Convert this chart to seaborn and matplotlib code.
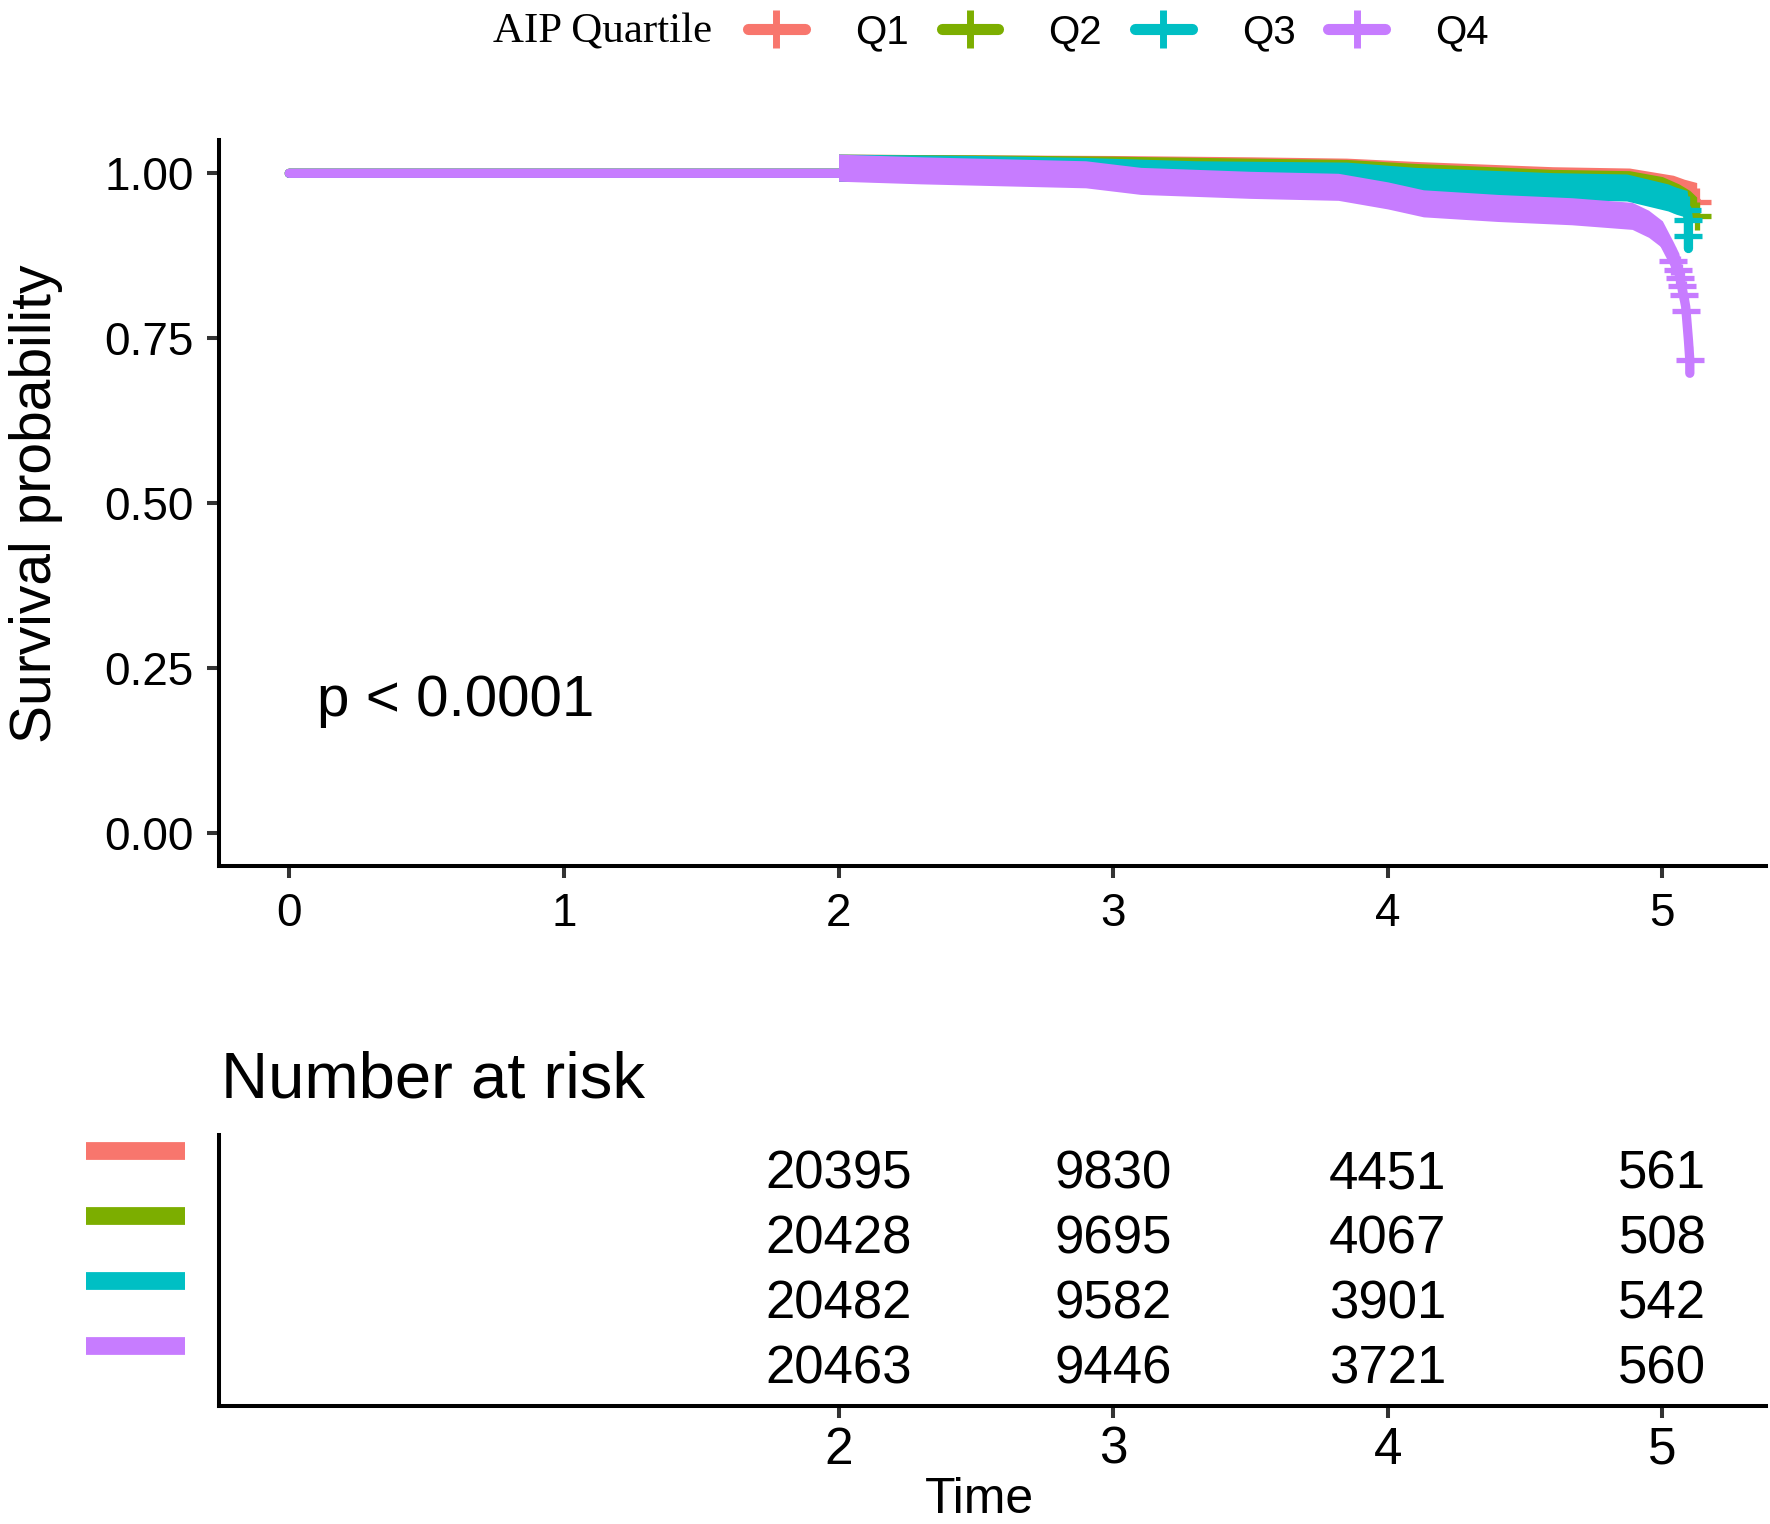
"""
Curva de supervivencia Kaplan-Meier por cuartil de AIP con tabla de riesgo
"""

import numpy as np
import pandas as pd
import matplotlib
matplotlib.use('Agg')
import matplotlib.pyplot as plt
from matplotlib.lines import Line2D
import seaborn as sns

# Grupos y colores (paleta por defecto de ggplot)
groups = ['Q1', 'Q2', 'Q3', 'Q4']
colors = ['#F8766D', '#7CAE00', '#00BFC4', '#C77CFF']

# Curvas KM (tiempo, supervivencia)
q1_time = [0, 2.0, 2.5, 3.0, 3.5, 3.85, 4.1, 4.6, 4.88, 5.04, 5.08, 5.125]
q1_surv = [1.0, 1.0, 0.999, 0.998, 0.996, 0.994, 0.989, 0.981, 0.979, 0.968, 0.962, 0.957]

q2_time = [0, 2.0, 2.5, 3.0, 3.5, 3.85, 4.1, 4.6, 4.88, 5.0, 5.06, 5.1, 5.125]
q2_surv = [1.0, 1.0, 0.999, 0.997, 0.994, 0.992, 0.986, 0.977, 0.975, 0.966, 0.955, 0.945, 0.935]

q3_time = [0, 2.0, 2.5, 2.9, 3.3, 3.85, 4.1, 4.6, 4.87, 4.95, 5.02, 5.05, 5.09, 5.095, 5.095]
q3_surv = [1.0, 1.0, 0.998, 0.995, 0.990, 0.988, 0.980, 0.972, 0.970, 0.962, 0.955, 0.950, 0.945, 0.929, 0.886]

q4_time = [0, 2.0, 2.3, 2.6, 2.9, 3.1, 3.5, 3.82, 4.0, 4.13, 4.4, 4.67, 4.89, 4.95,
           5.0, 5.04, 5.06, 5.07, 5.085, 5.095, 5.10, 5.10]
q4_surv = [1.0, 1.0, 0.996, 0.993, 0.990, 0.980, 0.974, 0.971, 0.958, 0.946, 0.939, 0.934, 0.927, 0.915,
           0.899, 0.867, 0.850, 0.830, 0.798, 0.747, 0.717, 0.697]

# Censuras aisladas al final de cada curva
q1_cens_t = [5.125]
q1_cens_s = [0.957]
q2_cens_t = [5.125]
q2_cens_s = [0.935]
q3_cens_t = [5.09, 5.095, 5.095]
q3_cens_s = [0.945, 0.929, 0.905]
q4_cens_t = [5.04, 5.058, 5.065, 5.07, 5.078, 5.086, 5.10]
q4_cens_s = [0.867, 0.853, 0.841, 0.830, 0.815, 0.792, 0.717]

# Tabla de número en riesgo
risk_times = [2, 3, 4, 5]
risk_q1 = [20395, 9830, 4451, 561]
risk_q2 = [20428, 9695, 4067, 508]
risk_q3 = [20482, 9582, 3901, 542]
risk_q4 = [20463, 9446, 3721, 560]

curves = [(q1_time, q1_surv), (q2_time, q2_surv), (q3_time, q3_surv), (q4_time, q4_surv)]
censors = [(q1_cens_t, q1_cens_s), (q2_cens_t, q2_cens_s),
           (q3_cens_t, q3_cens_s), (q4_cens_t, q4_cens_s)]
risks = [risk_q1, risk_q2, risk_q3, risk_q4]

sns.set_style('ticks')
plt.rcParams['font.family'] = ['Liberation Sans', 'DejaVu Sans']
plt.rcParams.update({
    'text.color': 'black',
    'axes.labelcolor': 'black',
    'axes.edgecolor': 'black',
    'xtick.labelcolor': 'black',
    'ytick.labelcolor': 'black',
})

W, H = 1770, 1524
fig = plt.figure(figsize=(W / 200, H / 200), dpi=200)

ax = fig.add_axes([219 / W, 1 - 866.3 / H, 1546.6 / W, 726 / H])
ax_risk = fig.add_axes([219 / W, 1 - 1406 / H, 1546.6 / W, 271 / H])

# Curvas de supervivencia
for i, (g, c) in enumerate(zip(groups, colors)):
    t, s = curves[i]
    df = pd.DataFrame({'time': t, 'surv': s})
    sns.lineplot(data=df, x='time', y='surv', color=c, lw=3.35, sort=False,
                 estimator=None, ax=ax, zorder=3 + i, legend=False)
    # banda de marcas de censura densas a partir de t = 2
    tt = np.array(t)
    ss = np.array(s)
    m = tt >= 2
    ax.fill_between(tt[m], ss[m] - 0.012, ss[m] + 0.029, color=c, lw=0, zorder=3 + i)
    ct, cs = censors[i]
    ax.plot(ct, cs, ls='none', marker='+', ms=10, mew=1.9, color=c, zorder=3 + i)

ax.set_xlim(-0.256, 5.376)
ax.set_ylim(-0.05, 1.05)
ax.set_xticks([0, 1, 2, 3, 4, 5])
ax.set_yticks([0, 0.25, 0.5, 0.75, 1.0])
ax.set_yticklabels(['0.00', '0.25', '0.50', '0.75', '1.00'])
ax.set_xlabel('')
ax.set_ylabel('Survival probability', fontsize=20.5)
ax.yaxis.set_label_coords(-0.101, 0.5)
ax.tick_params(labelsize=16.5, length=4.2, width=1.45, color='#333333', pad=5)
sns.despine(ax=ax)
for sp in ['left', 'bottom']:
    ax.spines[sp].set_linewidth(1.45)

ax.text(0.1, 0.2, 'p < 0.0001', fontsize=21, ha='left', va='center')

# Leyenda superior
handles = [Line2D([], [], color=c, lw=4, marker='+', ms=14, mew=2.5) for c in colors]
fig.legend(handles, groups, loc='center left', bbox_to_anchor=(748 / W, 1 - 32 / H),
           ncol=4, frameon=False, fontsize=14.5, handlelength=1.41, handletextpad=1.24,
           columnspacing=0.82, borderpad=0, borderaxespad=0)
fig.text(493 / W, 1 - 32 / H, 'AIP Quartile', family='Liberation Serif',
         fontsize=15.5, va='center', ha='left')

# Tabla de riesgo
fig.text(221 / W, 1 - 1098 / H, 'Number at risk', fontsize=23.5, va='baseline', ha='left')
row_y = [4, 3, 2, 1]
for i, c in enumerate(colors):
    for t, n in zip(risk_times, risks[i]):
        ax_risk.text(t, row_y[i] - 0.36, str(n), ha='center', va='center', fontsize=19)
    ax_risk.plot([-0.086, -0.022], [row_y[i], row_y[i]], color=c, lw=6.4,
                 solid_capstyle='butt', clip_on=False, transform=ax_risk.get_yaxis_transform())

ax_risk.set_xlim(-0.256, 5.376)
ax_risk.set_ylim(0.079, 4.246)
ax_risk.set_xticks(risk_times)
ax_risk.set_yticks([])
ax_risk.set_xlabel('Time', fontsize=18)
ax_risk.xaxis.set_label_coords(0.492, -0.262)
ax_risk.tick_params(labelsize=18.5, length=4.2, width=1.45, color='#333333', pad=3)
sns.despine(ax=ax_risk)
for sp in ['left', 'bottom']:
    ax_risk.spines[sp].set_linewidth(1.45)

fig.savefig('out.png', dpi=200)
